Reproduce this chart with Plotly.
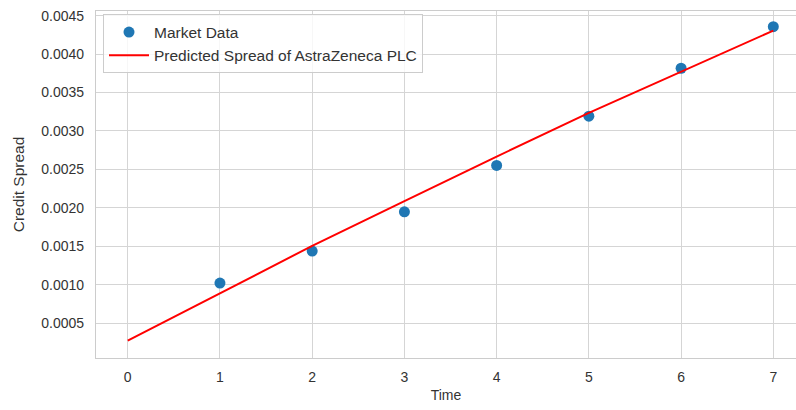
import plotly.graph_objects as go

# Observed market credit spreads over time
time = [1, 2, 3, 4, 5, 6, 7]
market_spread = [0.00102, 0.001436, 0.001947, 0.00255, 0.003191, 0.003815, 0.004356]

# Model-predicted spread curve
pred_time = [0, 1, 2, 3, 4, 5, 6, 7]
pred_spread = [0.00027, 0.000886, 0.001504, 0.002086, 0.002666, 0.003234, 0.003771, 0.004305]

x_ticks = [0, 1, 2, 3, 4, 5, 6, 7]
y_ticks = [0.0005, 0.0010, 0.0015, 0.0020, 0.0025, 0.0030, 0.0035, 0.0040, 0.0045]

FONT = "Liberation Sans, Arial, sans-serif"
TEXT = "#333333"
GRID = "#d5d5d5"

fig = go.Figure()
fig.add_trace(go.Scatter(
    x=time, y=market_spread, mode="markers", name="Market Data",
    marker=dict(color="#1f77b4", size=11, line=dict(width=0)),
))
fig.add_trace(go.Scatter(
    x=pred_time, y=pred_spread, mode="lines",
    name="Predicted Spread of AstraZeneca PLC",
    line=dict(color="#ff0000", width=2),
))

fig.update_layout(
    width=796, height=410,
    margin=dict(l=96, r=0, t=11, b=52),
    paper_bgcolor="white", plot_bgcolor="white",
    font=dict(family=FONT, color=TEXT, size=14),
    showlegend=True,
    legend=dict(
        x=0.01, y=0.99, xanchor="left", yanchor="top",
        bgcolor="rgba(255,255,255,0.8)", bordercolor="#cccccc", borderwidth=1,
        font=dict(size=15.5, family=FONT, color=TEXT),
        itemwidth=40, tracegroupgap=0,
    ),
    xaxis=dict(
        range=[-0.344, 7.246], tickvals=x_ticks,
        ticktext=[str(v) for v in x_ticks],
        showgrid=True, gridcolor=GRID, gridwidth=1,
        zeroline=False, showline=True, linecolor="#cccccc", linewidth=1.25,
        mirror=True, ticks="", ticklabelstandoff=6,
        title=dict(text="Time", font=dict(size=14), standoff=6),
        tickfont=dict(size=14),
    ),
    yaxis=dict(
        range=[0.000045, 0.00456], tickvals=y_ticks,
        ticktext=[f"{v:.4f}" for v in y_ticks],
        showgrid=True, gridcolor=GRID, gridwidth=1,
        zeroline=False, showline=True, linecolor="#cccccc", linewidth=1.25,
        ticks="", ticklabelstandoff=8,
        title=dict(text="Credit Spread", font=dict(size=15.5), standoff=12),
        tickfont=dict(size=14),
    ),
)

fig.write_html("out.html")
